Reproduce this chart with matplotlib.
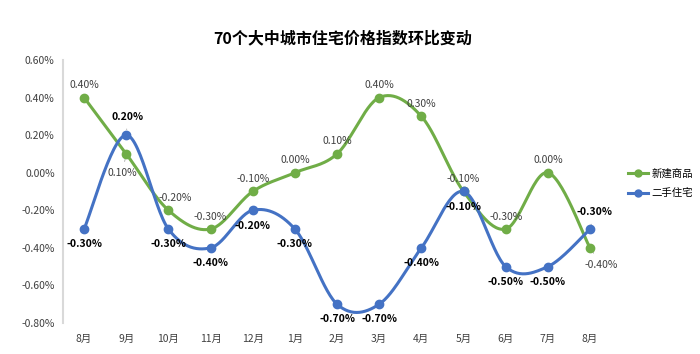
import numpy as np
import matplotlib.pyplot as plt

plt.rcParams['font.family'] = ['Noto Sans CJK SC', 'DejaVu Sans']

months = ['8月', '9月', '10月', '11月', '12月', '1月', '2月', '3月', '4月', '5月', '6月', '7月', '8月']
new_homes = [0.40, 0.10, -0.20, -0.30, -0.10, 0.00, 0.10, 0.40, 0.30, -0.10, -0.30, 0.00, -0.40]
second_hand = [-0.30, 0.20, -0.30, -0.40, -0.20, -0.30, -0.70, -0.70, -0.40, -0.10, -0.50, -0.50, -0.30]
yticks = [-0.8, -0.6, -0.4, -0.2, 0.0, 0.2, 0.4, 0.6]

green = '#70AD47'
blue = '#4472C4'


def smooth(y, n=30):
    # Catmull-Rom curve through the points, like Excel's smoothed line
    y = np.asarray(y, dtype=float)
    x = np.arange(len(y), dtype=float)
    px = np.concatenate([[x[0]], x, [x[-1]]])
    py = np.concatenate([[y[0]], y, [y[-1]]])
    xs, ys = [], []
    for i in range(1, len(px) - 2):
        t = np.linspace(0, 1, n, endpoint=False)
        for p, out in ((px, xs), (py, ys)):
            p0, p1, p2, p3 = p[i - 1], p[i], p[i + 1], p[i + 2]
            m1 = (p2 - p0) / 2
            m2 = (p3 - p1) / 2
            h00 = 2 * t**3 - 3 * t**2 + 1
            h10 = t**3 - 2 * t**2 + t
            h01 = -2 * t**3 + 3 * t**2
            h11 = t**3 - t**2
            out.extend(h00 * p1 + h10 * m1 + h01 * p2 + h11 * m2)
    xs.append(x[-1])
    ys.append(y[-1])
    return np.array(xs), np.array(ys)


def pct(v):
    return '%.2f%%' % (round(v, 2) + 0.0)


fig = plt.figure(figsize=(7, 3.54), dpi=100)
ax = fig.add_axes([0.09, 0.0876, 0.783, 0.743])

x = np.arange(len(months))
for vals, c, name in ((new_homes, green, '新建商品'), (second_hand, blue, '二手住宅')):
    sx, sy = smooth(vals)
    ax.plot(sx, sy, color=c, lw=2.2, zorder=3)
    ax.plot(x, vals, 'o', color=c, ms=6, zorder=4)
    ax.plot([], [], '-o', color=c, lw=2.2, ms=5, label=name)

# label offsets in points (dx, dy); leader lines where the label is pushed away
g_off = [(0, 9), (-3, -14), (5, 9), (0, 9), (0, 9), (0, 9), (0, 9), (0, 9), (0, 9), (0, 9), (0, 9), (0, 9), (8, -12)]
b_off = [(0, -11), (1, 13), (0, -11), (0, -11), (0, -11), (0, -11), (0, -11), (0, -11), (0, -11), (0, -11), (0, -11), (0, -11), (3, 12)]
g_lead = {1, 12}
b_lead = {1, 12}
lead = dict(arrowstyle='-', color='#A6A6A6', lw=0.6, shrinkA=3, shrinkB=4)

for i in range(len(months)):
    ax.annotate(pct(new_homes[i]), (x[i], new_homes[i]), xytext=g_off[i],
                textcoords='offset points', ha='center', va='center',
                fontsize=7.5, color='#404040',
                arrowprops=lead if i in g_lead else None)
    ax.annotate(pct(second_hand[i]), (x[i], second_hand[i]), xytext=b_off[i],
                textcoords='offset points', ha='center', va='center',
                fontsize=7.5, color='#000000', fontweight='bold',
                arrowprops=lead if i in b_lead else None)

ax.set_xlim(-0.5, len(months) - 0.5)
ax.set_ylim(-0.8, 0.6)
ax.set_yticks(yticks)
ax.set_yticklabels([pct(v) for v in yticks])
ax.set_xticks(x)
ax.set_xticklabels(months)
ax.tick_params(length=0, labelsize=7.5, colors='#404040')
ax.tick_params(axis='y', pad=6)
ax.tick_params(axis='x', pad=8)
for s in ['top', 'right', 'bottom']:
    ax.spines[s].set_visible(False)
ax.spines['left'].set_color('#D9D9D9')
ax.spines['left'].set_linewidth(1.5)

fig.suptitle('70个大中城市住宅价格指数环比变动', x=0.49, y=0.915, fontsize=11.5, fontweight='bold', color='#000000')

ax.legend(loc='center left', bbox_to_anchor=(1.03, 0.53), frameon=False, fontsize=7.5,
          handlelength=2.0, labelspacing=0.9, handletextpad=0.3,
          borderaxespad=0, borderpad=0)

fig.savefig('out.png', dpi=100)
